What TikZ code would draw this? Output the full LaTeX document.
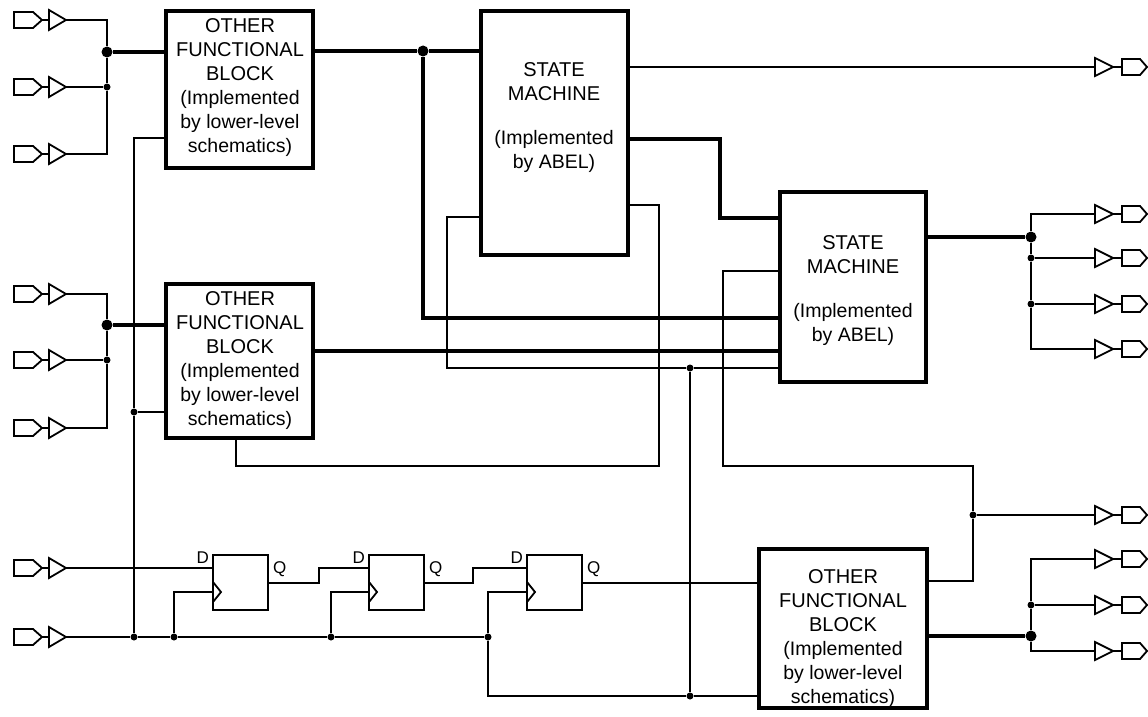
\documentclass[tikz,border=0pt]{standalone}
\usepackage{fontspec}
\setmainfont{Liberation Sans}
\tikzset{
  thinwire/.style={line width=1.8pt},
  heavywire/.style={line width=4pt},
  portline/.style={line width=1.8pt},
  blockbox/.style={draw,line width=4pt,outer sep=0pt,inner sep=0pt,anchor=north west},
  blocktext/.style={align=center,inner sep=0pt,font=\fontsize{20}{24}\selectfont},
  ffbox/.style={draw,line width=1.8pt,outer sep=0pt,inner sep=0pt,anchor=north west,minimum width=55pt,minimum height=55pt},
  pinlabel/.style={inner sep=0pt,font=\fontsize{17}{17}\selectfont},
  smalldot/.style={circle,fill=black,inner sep=0pt,minimum size=7pt},
  bigdot/.style={circle,fill=black,inner sep=0pt,minimum size=11pt},
}
\newcommand{\lowtext}[1]{{\fontsize{19.5}{24}\selectfont #1}}
\newcommand{\inport}[2]{
  \draw[portline] (14,#2-8) -- (33,#2-8) -- (42,#2) -- (33,#2+8) -- (14,#2+8) -- cycle;
  \draw[portline] (42,#2) -- (49,#2);
  \draw[portline] (49,#2-10) -- (66,#2) -- (49,#2+10) -- cycle;
  \coordinate (#1) at (66,#2);
}
\newcommand{\outport}[2]{
  \draw[portline] (1095,#2-9) -- (1113,#2) -- (1095,#2+9) -- cycle;
  \draw[portline] (1113,#2) -- (1122,#2);
  \draw[portline] (1122,#2-8) -- (1140,#2-8) -- (1147,#2) -- (1140,#2+8) -- (1122,#2+8) -- cycle;
  \coordinate (#1) at (1095,#2);
}
\begin{document}
\begin{tikzpicture}[x=1pt,y=-1pt]
\useasboundingbox (0,0) rectangle (1148,717);
% blocks
\node[blockbox,minimum width=147pt,minimum height=157pt] (blocka) at (166,11) {};
\node[blockbox,minimum width=147pt,minimum height=154pt] (blockb) at (166,284) {};
\node[blockbox,minimum width=168pt,minimum height=159pt] (blockc) at (759,549) {};
\node[blockbox,minimum width=147pt,minimum height=244pt] (sma) at (481,11) {};
\node[blockbox,minimum width=146pt,minimum height=190pt] (smb) at (780,192) {};
\node[blocktext] (blockatext) at (240,88) {OTHER\\FUNCTIONAL\\BLOCK\\\lowtext{(Implemented}\\\lowtext{by lower-level}\\\lowtext{schematics)}};
\node[blocktext] (blockbtext) at (240,361) {OTHER\\FUNCTIONAL\\BLOCK\\\lowtext{(Implemented}\\\lowtext{by lower-level}\\\lowtext{schematics)}};
\node[blocktext] (blockctext) at (843,639) {OTHER\\FUNCTIONAL\\BLOCK\\\lowtext{(Implemented}\\\lowtext{by lower-level}\\\lowtext{schematics)}};
\node[blocktext] (smatext) at (554,118) {STATE\\MACHINE\\[20pt]\lowtext{(Implemented}\\\lowtext{by ABEL)}};
\node[blocktext] (smbtext) at (853,291) {STATE\\MACHINE\\[20pt]\lowtext{(Implemented}\\\lowtext{by ABEL)}};
% flip flops
\node[ffbox] (ffa) at (213,555) {};
\node[ffbox] (ffb) at (369,555) {};
\node[ffbox] (ffc) at (527,555) {};
\foreach \ff/\x in {ffa/213,ffb/369,ffc/527}{
  \node[pinlabel,anchor=east] (\ff d) at (\x-4,558) {D};
  \node[pinlabel,anchor=west] (\ff q) at (\x+60,569) {Q};
  \draw[portline] (\x,582) -- (\x+8,592) -- (\x,602);
  \coordinate (\ff clk) at (\x,592);
}
% ports
\inport{ina}{20}
\inport{inb}{87}
\inport{inc}{154}
\inport{ind}{294}
\inport{ine}{360}
\inport{inf}{428}
\inport{ing}{568}
\inport{inh}{637}
\outport{outa}{67}
\outport{outb}{214}
\outport{outc}{258}
\outport{outd}{304}
\outport{oute}{349}
\outport{outf}{515}
\outport{outg}{559}
\outport{outh}{605}
\outport{outi}{651}
% junctions
\node[bigdot] (ja) at (107,52) {};
\node[smalldot] (jb) at (107,87) {};
\node[bigdot] (jc) at (107,325) {};
\node[smalldot] (jd) at (107,360) {};
\node[smalldot] (je) at (134,412) {};
\node[smalldot] (jf) at (134,637) {};
\node[smalldot] (jg) at (174,637) {};
\node[smalldot] (jh) at (331,637) {};
\node[smalldot] (ji) at (488,637) {};
\node[bigdot] (jj) at (423,51) {};
\node[smalldot] (jk) at (690,368) {};
\node[smalldot] (jl) at (690,696) {};
\node[bigdot] (jm) at (1031,237) {};
\node[smalldot] (jn) at (1031,258) {};
\node[smalldot] (jo) at (1031,304) {};
\node[smalldot] (jp) at (973,515) {};
\node[bigdot] (jq) at (1031,636) {};
\node[smalldot] (jr) at (1031,605) {};
\coordinate (tapa) at (134,138);
\coordinate (riseb) at (720,139);
\coordinate (loopa) at (447,217);
\coordinate (loopb) at (447,368);
\coordinate (loopc) at (659,205);
\coordinate (loopd) at (659,466);
\coordinate (loope) at (236,466);
\coordinate (loopf) at (723,271);
\coordinate (loopg) at (723,466);
\coordinate (looph) at (973,466);
\coordinate (loopi) at (973,581);
\coordinate (feed) at (488,696);
% left side inputs
\draw[thinwire] (ina) -| (ja);
\draw[thinwire] (ja) -- (jb);
\draw[thinwire] (jb) |- (inc);
\draw[thinwire] (inb) -- (jb);
\draw[thinwire] (ind) -| (jc);
\draw[thinwire] (jc) -- (jd);
\draw[thinwire] (jd) |- (inf);
\draw[thinwire] (ine) -- (jd);
\draw[heavywire] (ja) -- (ja -| blocka.west);
\draw[heavywire] (jc) -- (jc -| blockb.west);
% clock lines
\draw[thinwire] (blocka.west |- tapa) -- (tapa) -- (je) -- (jf);
\draw[thinwire] (je) -- (je -| blockb.west);
\draw[thinwire] (inh) -- (jf) -- (jg) -- (jh) -- (ji);
\draw[thinwire] (jg) |- (ffaclk);
\draw[thinwire] (jh) |- (ffbclk);
\draw[thinwire] (ji) |- (ffcclk);
\draw[thinwire] (ji) -- (feed) -- (jl) -- (jl -| blockc.west);
\draw[thinwire] (jl) -- (jk);
% flip flop chain
\draw[thinwire] (ing) -- (ing -| ffa.west);
\draw[thinwire] (ffa.east |- 0,583) -- (319,583) -- (319,568) -- (ffb.west |- 0,568);
\draw[thinwire] (ffb.east |- 0,583) -- (473,583) -- (473,568) -- (ffc.west |- 0,568);
\draw[thinwire] (ffc.east |- 0,583) -- (blockc.west |- 0,583);
% top heavy nets
\draw[heavywire] (blocka.east |- jj) -- (jj) -- (jj -| sma.west);
\draw[heavywire] (jj) |- (smb.west |- 0,318);
\draw[heavywire] (blockb.east |- 0,351) -- (smb.west |- 0,351);
\draw[heavywire] (sma.east |- riseb) -- (riseb) |- (smb.west |- 0,218);
% state machine thin nets
\draw[thinwire] (sma.east |- outa) -- (outa);
\draw[thinwire] (sma.west |- loopa) -- (loopa) -- (loopb) -- (jk) -- (jk -| smb.west);
\draw[thinwire] (sma.east |- loopc) -- (loopc) -- (loopd) -- (loope) -- (loope |- blockb.south);
\draw[thinwire] (smb.west |- loopf) -- (loopf) -- (loopg) -- (looph) -- (jp) -- (loopi) -- (loopi -| blockc.east);
\draw[thinwire] (jp) -- (outf);
% outputs
\draw[heavywire] (jm -| smb.east) -- (jm);
\draw[thinwire] (outb) -| (jm);
\draw[thinwire] (jm) -- (jn) -- (jo);
\draw[thinwire] (jo) |- (oute);
\draw[thinwire] (jn) -- (outc);
\draw[thinwire] (jo) -- (outd);
\draw[heavywire] (jq -| blockc.east) -- (jq);
\draw[thinwire] (outg) -| (jr);
\draw[thinwire] (jr) -- (jq);
\draw[thinwire] (jq) |- (outi);
\draw[thinwire] (jr) -- (outh);
\end{tikzpicture}
\end{document}
